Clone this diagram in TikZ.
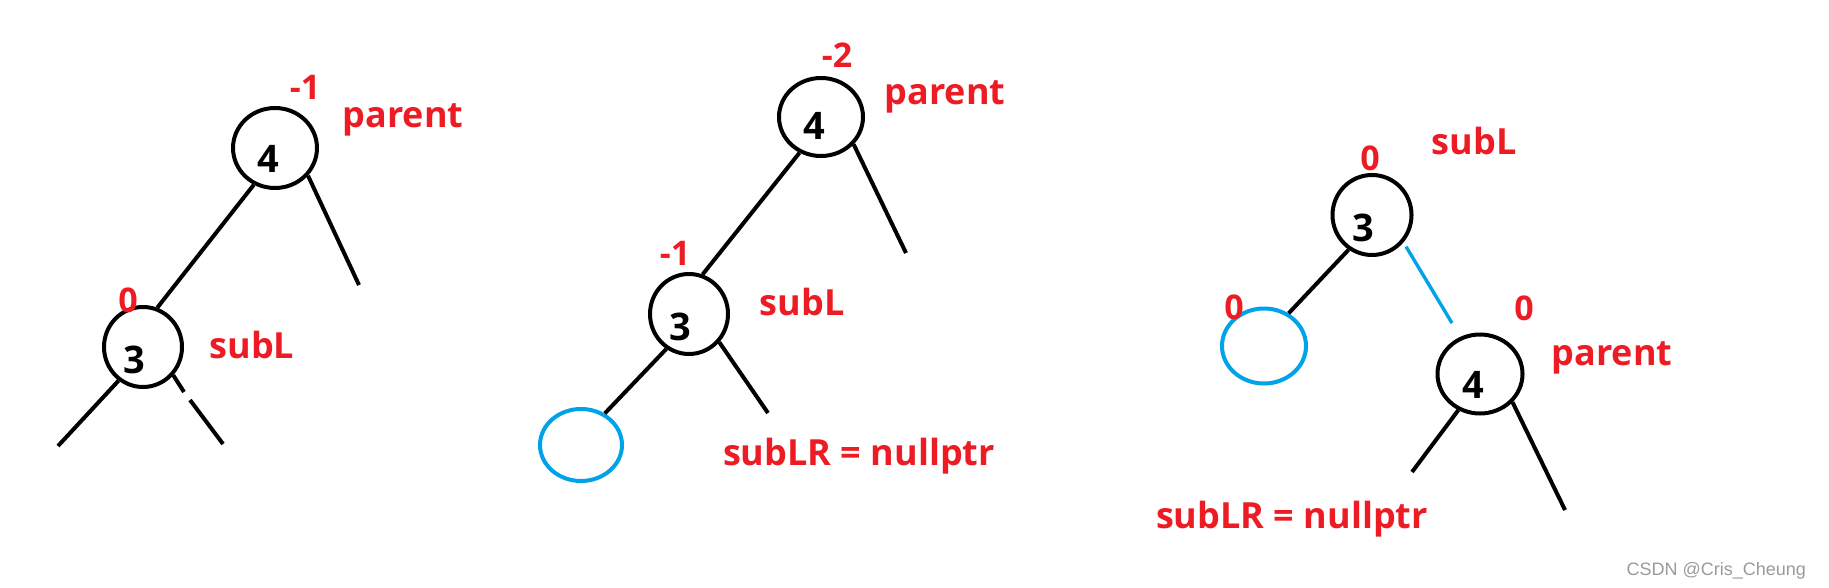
\documentclass[tikz,border=0pt]{standalone}
\usepackage{fontspec}
\setmainfont{Open Sans}
\newfontfamily\markfont{Liberation Sans}
\usetikzlibrary{shapes.geometric}
\definecolor{paintred}{HTML}{ED1C24}
\definecolor{paintblue}{HTML}{00A2E8}
\definecolor{markgray}{HTML}{9A9A9A}

\begin{document}
\begin{tikzpicture}[
      x=0.5pt, y=-0.5pt,
      tnode/.style={ellipse, draw, line width=2pt, inner sep=0pt},
      nilnode/.style={ellipse, draw=paintblue, line width=2pt, inner sep=0pt},
      key/.style={anchor=base, font=\fontsize{19pt}{19pt}\bfseries},
      bal/.style={anchor=base, text=paintred, font=\fontsize{17pt}{17pt}\bfseries},
      tag/.style={anchor=base, text=paintred, font=\fontsize{18pt}{18pt}\bfseries},
      link/.style={line width=2pt},
      bluelink/.style={line width=1.7pt, draw=paintblue}
    ]
        \useasboundingbox (0,0) rectangle (1829,588);

        \node[tnode, minimum width=42pt, minimum height=40pt] (p1) at (275,148) {};
        \node[key] (p1key) at (268,173) {4};
        \node[bal] (p1bal) at (305,100) {-1};
        \node[tag] (p1tag) at (403,128) {parent};
        \node[tnode, minimum width=39pt, minimum height=40pt] (s1) at (143,347) {};
        \node[key] (s1key) at (134,373) {3};
        \node[bal] (s1bal) at (128,312) {0};
        \node[tag] (s1tag) at (252,358) {subL};
        \coordinate (p1r) at (359,285);
        \coordinate (s1l) at (58,446);
        \coordinate (s1gapa) at (184,392);
        \coordinate (s1gapb) at (190,400);
        \coordinate (s1r) at (223,444);
        \draw[link] (p1.240) -- (s1.70);
        \draw[link] (p1.320) -- (p1r);
        \draw[link] (s1.234) -- (s1l);
        \draw[link] (s1.317) -- (s1gapa) (s1gapb) -- (s1r);

        \node[tnode, minimum width=42pt, minimum height=39pt] (p2) at (821,117) {};
        \node[key] (p2key) at (814,140) {4};
        \node[bal] (p2bal) at (837,68) {-2};
        \node[tag] (p2tag) at (945,105) {parent};
        \node[tnode, minimum width=39pt, minimum height=40pt] (s2) at (689,314) {};
        \node[key] (s2key) at (680,340) {3};
        \node[bal] (s2bal) at (675,265) {-1};
        \node[tag] (s2tag) at (802,315) {subL};
        \node[nilnode, minimum width=41pt, minimum height=36pt] (n2) at (581,445) {};
        \node[tag, anchor=base west] (n2tag) at (716,465) {subLR = nullptr};
        \coordinate (p2r) at (906,253);
        \coordinate (s2r) at (768,413);
        \draw[link] (p2.239) -- (s2.71);
        \draw[link] (p2.320) -- (p2r);
        \draw[link] (s2.237) -- (n2.53);
        \draw[link] (s2.317) -- (s2r);

        \node[tnode, minimum width=39.5pt, minimum height=40pt] (s3) at (1372,215) {};
        \node[key] (s3key) at (1363,242) {3};
        \node[bal] (s3bal) at (1370,171) {0};
        \node[tag] (s3tag) at (1474,155) {subL};
        \node[nilnode, minimum width=42pt, minimum height=37.5pt] (n3) at (1264,346) {};
        \node[bal] (n3bal) at (1234,319) {0};
        \node[tnode, minimum width=42.5pt, minimum height=39.5pt] (p3) at (1480,374) {};
        \node[key] (p3key) at (1473,398) {4};
        \node[bal] (p3bal) at (1524,320) {0};
        \node[tag] (p3tag) at (1612,365) {parent};
        \node[tag, anchor=base west] (n3tag) at (1149,528) {subLR = nullptr};
        \coordinate (p3l) at (1412,472);
        \coordinate (p3r) at (1565,510);
        \draw[link] (s3.236) -- (n3.53);
        \draw[bluelink, shorten <=2.5pt, shorten >=8pt] (s3.319) -- (p3.118);
        \draw[link] (p3.239) -- (p3l);
        \draw[link] (p3.319) -- (p3r);

        \node[anchor=base east, text=markgray, font=\markfont\fontsize{9pt}{9pt}\selectfont] (mark) at (1813,575) {CSDN @Cris\_Cheung};
    \end{tikzpicture}
\end{document}
